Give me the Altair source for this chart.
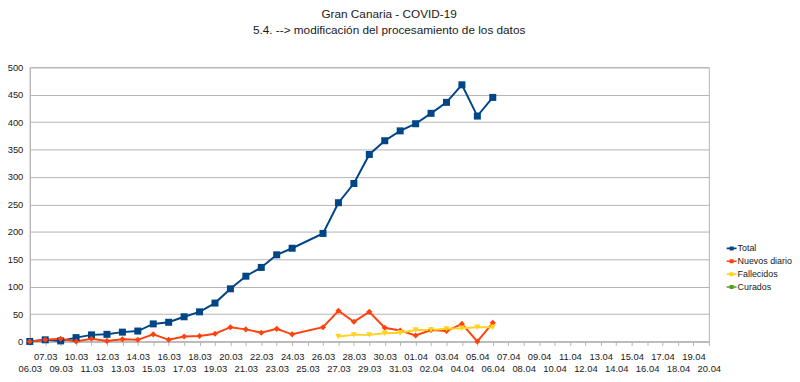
import json
import altair as alt
import pandas as pd

# Category axis (note: 08.03 is absent in the source sheet)
dates = ["06.03", "07.03"] + [f"{d:02d}.03" for d in range(9, 32)] + [f"{d:02d}.04" for d in range(1, 21)]

series_names = ["Total", "Nuevos diario", "Fallecidos", "Curados"]
series_colors = ["#004586", "#ff420e", "#ffd320", "#579d1c"]
series_shapes = ["square", "diamond", "triangle-down", "triangle-up"]
series_sizes = [50, 38, 40, 40]

main_dates = ["06.03", "07.03", "09.03", "10.03", "11.03", "12.03", "13.03", "14.03", "15.03",
              "16.03", "17.03", "18.03", "19.03", "20.03", "21.03", "22.03", "23.03", "24.03",
              "26.03", "27.03", "28.03", "29.03", "30.03", "31.03", "01.04", "02.04", "03.04",
              "04.04", "05.04", "06.04"]
total = [0, 3, 1, 7, 12, 13, 17, 19, 32, 35, 45, 54, 70, 96, 119, 135, 158, 170,
         197, 253, 288, 341, 366, 384, 397, 416, 436, 468, 411, 445]
nuevos = [0, 3, 5, 0, 5, 1, 4, 3, 13, 3, 9, 10, 14, 26, 22, 16, 23, 13,
          26, 56, 36, 54, 25, 20, 11, 21, 19, 32, 0, 34]

fall_dates = ["27.03", "28.03", "29.03", "30.03", "31.03", "01.04", "02.04", "03.04", "04.04", "05.04", "06.04"]
fallecidos = [9, 12, 12, 15, 16, 21, 21, 23, 24, 26, 26]

cur_dates = []
curados = []

rows = []
for name, ds, vs in [("Total", main_dates, total), ("Nuevos diario", main_dates, nuevos),
                     ("Fallecidos", fall_dates, fallecidos), ("Curados", cur_dates, curados)]:
    for d, v in zip(ds, vs):
        rows.append({"serie": name, "fecha": d, "idx": dates.index(d), "valor": v})
df = pd.DataFrame(rows)

FONT = "Liberation Sans"
GRID = "#b3b3b3"
TXT = "#1a1a1a"

label_expr = json.dumps(dates) + "[datum.value]"

x_enc = alt.X(
    "idx:Q",
    scale=alt.Scale(domain=[0, len(dates) - 1], nice=False, zero=False),
    axis=alt.Axis(
        title=None,
        values=list(range(len(dates))),
        labelExpr=label_expr,
        labelOverlap=False,
        labelFlush=False,
        labelBound=False,
        grid=False,
        ticks=True,
        tickSize=4,
        tickColor=GRID,
        domainColor=GRID,
        labelFont=FONT,
        labelFontSize=9.5,
        labelColor=TXT,
        labelPadding={"condition": {"test": "datum.value % 2 == 1", "value": 6}, "value": 18},
    ),
)
y_enc = alt.Y(
    "valor:Q",
    scale=alt.Scale(domain=[0, 500], nice=False),
    axis=alt.Axis(
        title=None,
        values=list(range(0, 501, 50)),
        grid=True,
        gridColor=GRID,
        domainColor=GRID,
        ticks=False,
        labelPadding=7,
        labelFont=FONT,
        labelFontSize=9.5,
        labelColor=TXT,
    ),
)

color_scale = alt.Scale(domain=series_names, range=series_colors)

legend_symbol = "M-1,-0.16L1,-0.16L1,0.16L-1,0.16Z M-0.4,-0.4L0.4,-0.4L0.4,0.4L-0.4,0.4Z"

legend = alt.Legend(
    title=None, orient="none", legendX=704, legendY=178,
    symbolType=legend_symbol, symbolSize=100, symbolStrokeWidth=0,
    labelFont=FONT, labelFontSize=9, labelColor=TXT, labelOffset=1,
    rowPadding=3, values=series_names,
)

color_enc = alt.Color("serie:N", scale=color_scale, legend=legend)

base = alt.Chart(df)

layers = [
    base.mark_line(strokeWidth=2).encode(x=x_enc, y=y_enc, color=color_enc, order="idx:Q")
]
for name, shp, sz in zip(series_names, series_shapes, series_sizes):
    layers.append(
        base.transform_filter(alt.datum.serie == name)
        .mark_point(filled=True, opacity=1, shape=shp, size=sz)
        .encode(x=x_enc, y=y_enc, color=color_enc)
    )

chart = (
    alt.layer(*layers)
    .properties(
        width=686,
        height=277,
        autosize=alt.AutoSizeParams(type="none"),
        padding={"left": 22, "top": 58, "right": 84, "bottom": 30},
        background="white",
        title=alt.TitleParams(
            text="Gran Canaria - COVID-19",
            subtitle="5.4. --> modificación del procesamiento de los datos",
            font=FONT, subtitleFont=FONT,
            fontSize=11.9, subtitleFontSize=11.9,
            fontWeight="normal", color=TXT, subtitleColor=TXT,
            anchor="middle", dx=20, offset=26, subtitlePadding=3.5,
        ),
    )
    .configure_view(stroke=GRID, strokeWidth=1)
)

chart.save("out.html", embed_options={"renderer": "svg", "actions": False})
